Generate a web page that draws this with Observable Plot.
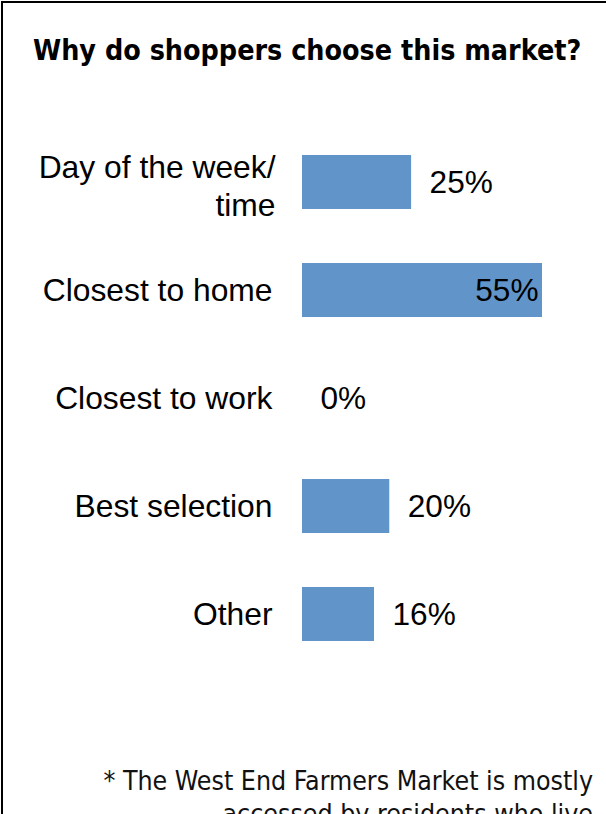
<!DOCTYPE html>
<html>
<head>
<meta charset="utf-8">
<script src="https://cdn.jsdelivr.net/npm/d3@7"></script>
<script src="https://cdn.jsdelivr.net/npm/@observablehq/plot@0.6"></script>
<style>
  html, body { margin: 0; padding: 0; background: #fff; }
  #frame { position: relative; width: 606px; height: 814px; overflow: hidden; background: #fff; }
  #border { position: absolute; left: 1px; top: 1px; width: 700px; height: 900px; border-top: 2px solid #000; border-left: 2px solid #000; }
  #title { position: absolute; left: 33px; top: 34px; font-family: "DejaVu Sans Condensed", "DejaVu Sans", sans-serif; font-weight: bold; font-size: 28.4px; line-height: 34px; color: #000; white-space: nowrap; }
  #chart { position: absolute; left: 0; top: 0; }
  #note { position: absolute; right: 13px; top: 764px; font-family: "DejaVu Sans Condensed", "DejaVu Sans", sans-serif; font-weight: normal; font-size: 26.5px; line-height: 33px; color: #111; text-align: right; white-space: nowrap; }
</style>
</head>
<body>
<div id="frame">
  <div id="border"></div>
  <div id="chart"></div>
  <div id="title">Why do shoppers choose this market?</div>
  <div id="note">* The West End Farmers Market is mostly<br>accessed by residents who live</div>
</div>
<script>
const categories = ["Day of the week/\ntime", "Closest to home", "Closest to work", "Best selection", "Other"];
const values = [25, 55, 0, 20, 16.5];
const valueLabels = ["25%", "55%", "0%", "20%", "16%"];
const insideLabel = [false, true, false, false, false];

const data = categories.map((c, i) => ({category: c, value: values[i], label: valueLabels[i], inside: insideLabel[i], multi: c.includes("\n")}));

const chart = Plot.plot({
  width: 606,
  height: 700,
  marginLeft: 302,
  marginRight: 64,
  marginTop: 101,
  marginBottom: 5,
  x: {domain: [0, 55], axis: null},
  y: {domain: categories, padding: 0.5, axis: null},
  style: {fontFamily: "'Liberation Sans', Arial, sans-serif", fontSize: "32px", color: "#000", background: "transparent", overflow: "visible"},
  marks: [
    Plot.barX(data, {x: "value", y: "category", fill: "#6195c9"}),
    Plot.text(data.filter(d => !d.multi), {x: 0, y: "category", text: "category", textAnchor: "end", dx: -30, fontSize: 31.8, fill: "#000"}),
    Plot.text(data.filter(d => d.multi), {x: 0, y: "category", text: "category", textAnchor: "end", dx: -27, dy: 2, lineHeight: 1.2, fontSize: 31.8, fill: "#000"}),
    Plot.text(data.filter(d => d.inside), {x: "value", y: "category", text: "label", textAnchor: "end", dx: -4, fontSize: 31.6, fill: "#000"}),
    Plot.text(data.filter(d => !d.inside), {x: "value", y: "category", text: "label", textAnchor: "start", dx: 18, fontSize: 31.6, fill: "#000"})
  ]
});
document.getElementById("chart").appendChild(chart);
</script>
</body>
</html>
